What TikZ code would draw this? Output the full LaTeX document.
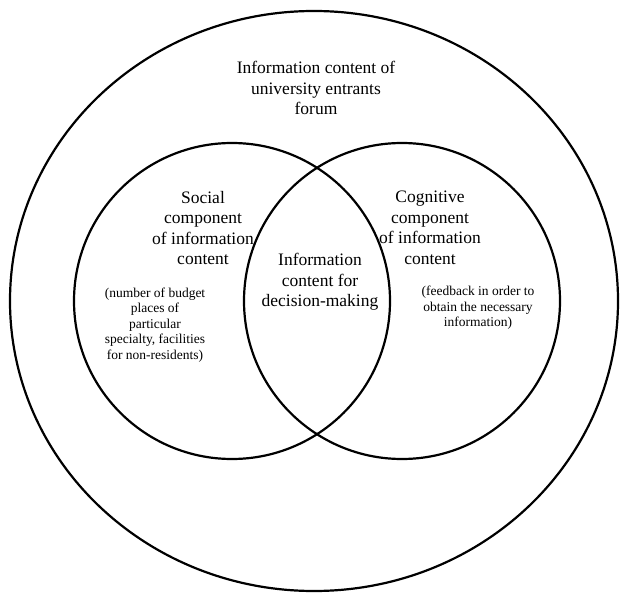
\documentclass[tikz,border=0pt]{standalone}
\usepackage{fontspec}
\setmainfont{Liberation Serif}
\usetikzlibrary{positioning,shapes.geometric}

\begin{document}
\begin{tikzpicture}[x=1pt,y=-1pt,
    ring/.style={draw,line width=2.2pt,inner sep=0pt},
    big/.style={align=center,font=\fontsize{17.5}{20.5}\selectfont},
    small/.style={align=center,font=\fontsize{13.5}{15.5}\selectfont}]
    \useasboundingbox (0,0) rectangle (620,593);

    % rings
    \node[ring,ellipse,minimum width=608pt,minimum height=580pt] at (314,301) (forum) {};
    \node[ring,circle,minimum size=316pt] at (232,301) (social) {};
    \node[ring,circle,minimum size=316pt] at (402,301) (cognitive) {};

    % labels
    \node[big] at (316,88) (forumtext) {Information content of\\university entrants\\forum};
    \node[big] at (203,228) (socialtext) {Social\\component\\of information\\content};
    \node[big] at (430,228) (cogtext) {Cognitive\\component\\of information\\content};
    \node[big] at (320,282) (decision) {Information\\content for\\decision-making};
    \node[small] at (155,325) (socialnote) {(number of budget\\places of\\particular\\specialty, facilities\\for non-residents)};
    \node[small] at (478,308) (cognote) {(feedback in order to\\obtain the necessary\\information)};
\end{tikzpicture}
\end{document}
